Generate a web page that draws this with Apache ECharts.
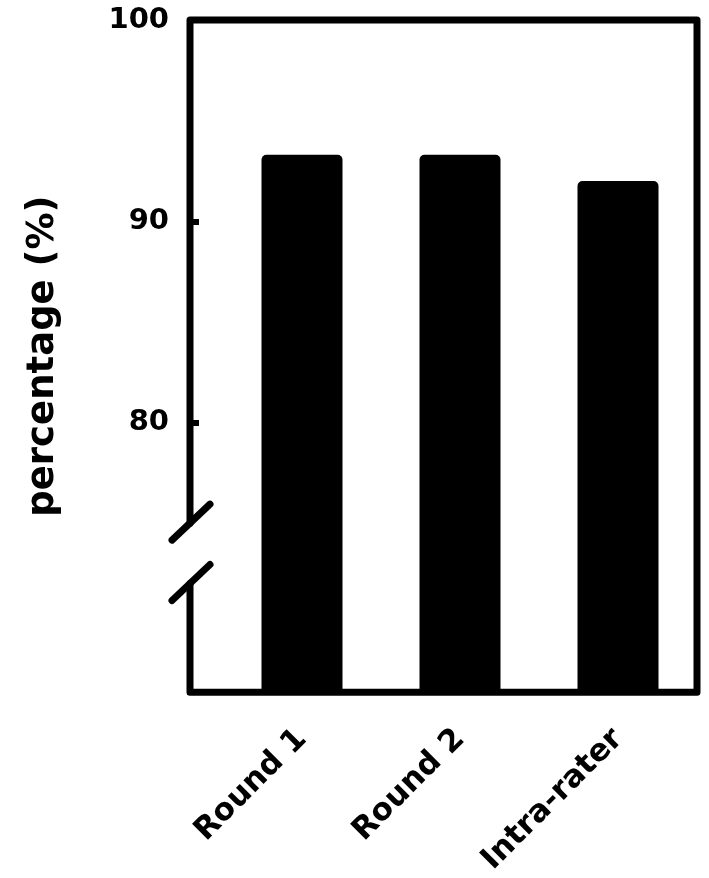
<!DOCTYPE html>
<html>
<head>
    <meta http-equiv="Content-Type" content="text/html; charset=utf-8">
    <title>percentage</title>
    <script src="https://cdn.jsdelivr.net/npm/echarts@6.0.0/dist/echarts.min.js"></script>
    <style>
        html, body { margin: 0; padding: 0; background: #fff; }
    </style>
</head>
<body>
    <div id="chart" style="width: 709px; height: 878px;"></div>
    <script type="text/javascript">
        // data
        var categories = ['Round 1', 'Round 2', 'Intra-rater'];
        var values = [93.3, 93.3, 92.0];
        var tickValues = [80, 90, 100];
        var axisMin = 66.6;
        var axisMax = 100;
        var breakValues = [75, 72]; // where the left axis line is cut

        var font = 'DejaVu Sans';
        var chart = echarts.init(document.getElementById('chart'));

        var option = {
            backgroundColor: '#fff',
            animation: false,
            grid: {
                left: 223,
                right: 12,
                top: 20,
                bottom: 184
            },
            xAxis: {
                type: 'category',
                data: categories,
                axisLine: { show: false },
                axisTick: { show: false },
                axisLabel: {
                    rotate: 45,
                    margin: 42,
                    color: '#000',
                    fontFamily: font,
                    fontWeight: 'bold',
                    fontSize: 31
                }
            },
            yAxis: {
                type: 'value',
                min: axisMin,
                max: axisMax,
                offset: 33,
                splitLine: { show: false },
                axisLine: { show: false },
                axisTick: {
                    show: true,
                    inside: true,
                    length: 9,
                    customValues: tickValues,
                    lineStyle: { color: '#000', width: 6 }
                },
                axisLabel: {
                    customValues: tickValues,
                    margin: 21,
                    color: '#000',
                    fontFamily: font,
                    fontWeight: 'bold',
                    fontSize: 29
                },
                name: 'percentage (%)',
                nameLocation: 'middle',
                nameGap: 128,
                nameTextStyle: {
                    color: '#000',
                    fontFamily: font,
                    fontWeight: 'bold',
                    fontSize: 37
                }
            },
            series: [
                {
                    type: 'bar',
                    data: values,
                    barWidth: 81,
                    itemStyle: {
                        color: '#000',
                        borderRadius: [5, 5, 0, 0]
                    }
                }
            ]
        };

        chart.setOption(option);

        // frame with a broken left axis
        var yTop = chart.convertToPixel({ yAxisIndex: 0 }, axisMax);
        var yBottom = chart.convertToPixel({ yAxisIndex: 0 }, axisMin);
        var yCut1 = chart.convertToPixel({ yAxisIndex: 0 }, breakValues[0]);
        var yCut2 = chart.convertToPixel({ yAxisIndex: 0 }, breakValues[1]);
        var xLeft = 190;
        var xRight = 697;
        var lineStyle = { stroke: '#000', lineWidth: 7, lineCap: 'round', lineJoin: 'round', fill: null };

        function slash(y) {
            return {
                type: 'line',
                shape: { x1: xLeft - 18, y1: y + 17, x2: xLeft + 20, y2: y - 19 },
                style: lineStyle,
                z: 10
            };
        }

        chart.setOption({
            graphic: [
                {
                    type: 'polyline',
                    shape: { points: [[xLeft, yCut1], [xLeft, yTop], [xRight, yTop], [xRight, yBottom], [xLeft, yBottom], [xLeft, yCut2]] },
                    style: lineStyle,
                    z: 10
                },
                slash(yCut1),
                slash(yCut2)
            ]
        });
    </script>
</body>
</html>
